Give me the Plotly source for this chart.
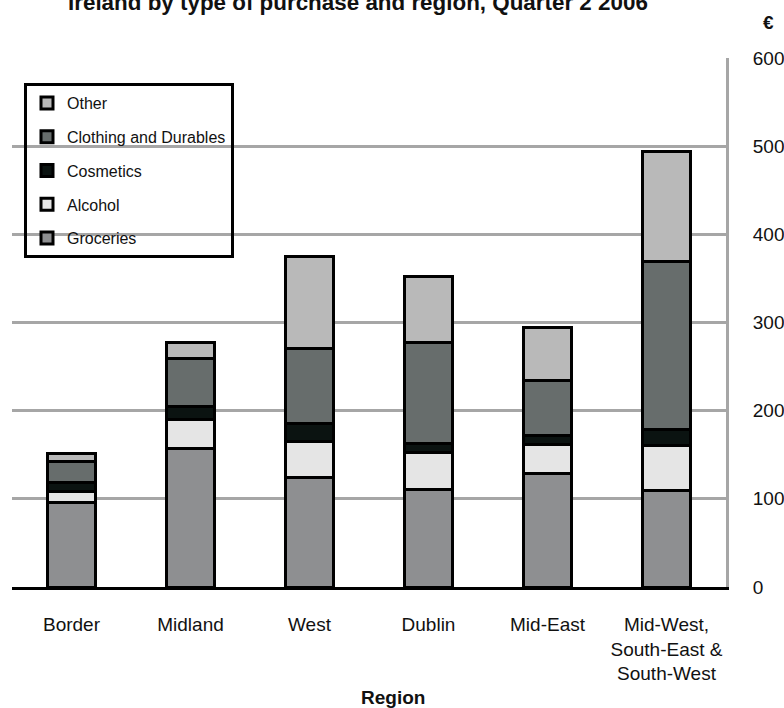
import plotly.graph_objects as go

regions = ["Border", "Midland", "West", "Dublin", "Mid-East",
           "Mid-West,<br>South-East &<br>South-West"]
groceries = [96, 157, 124, 111, 129, 109]
alcohol = [12, 33, 41, 41, 33, 51]
cosmetics = [10, 15, 21, 11, 10, 19]
clothing = [24, 54, 84, 114, 62, 190]
other = [9, 18, 105, 75, 60, 125]

series = [
    ("Groceries", groceries, "#8e8f91", 5),
    ("Alcohol", alcohol, "#e5e5e5", 4),
    ("Cosmetics", cosmetics, "#0b1311", 3),
    ("Clothing and Durables", clothing, "#676d6c", 2),
    ("Other", other, "#b9b9b9", 1),
]

FONT = "Liberation Sans, Arial, sans-serif"

fig = go.Figure()
for name, vals, col, rank in series:
    fig.add_trace(go.Bar(
        x=regions, y=vals, name=name, legendgroup=name, legendrank=rank,
        marker=dict(color=col, line=dict(color="#000000", width=3)),
        width=0.41,
    ))

W, H = 784, 708
L, R, T, B = 12, 58, 58, 121
ph = H - T - B

def py(px):
    return (H - B - px) / ph

def pxx(px):
    return (px - L) / (W - L - R)

fig.update_layout(
    width=W, height=H,
    margin=dict(l=L, r=R, t=T, b=B, pad=0, autoexpand=False),
    barmode="stack",
    plot_bgcolor="white", paper_bgcolor="white",
    font=dict(family=FONT, color="#111111", size=19),
    showlegend=True,
    legend=dict(
        x=pxx(24), y=py(83), xanchor="left", yanchor="top",
        bgcolor="rgba(0,0,0,0)", bordercolor="#000000", borderwidth=3,
        font=dict(family=FONT, size=16, color="#111111"),
        traceorder="grouped", tracegroupgap=10,
    ),
    xaxis=dict(
        showgrid=False, showline=True, linecolor="#000000", linewidth=3,
        ticks="", tickfont=dict(size=19), ticklabelstandoff=18,
        zeroline=False, fixedrange=True, automargin=False,
    ),
    yaxis=dict(
        side="right", range=[0, 600], dtick=100,
        showgrid=True, gridcolor="#a6a6a6", gridwidth=3,
        showline=True, linecolor="#a6a6a6", linewidth=3,
        zeroline=False, ticks="", ticklabelstandoff=20,
        tickfont=dict(size=19), fixedrange=True, automargin=False,
    ),
    annotations=[
        dict(text="<b>Ireland by type of purchase and region, Quarter 2 2006</b>",
             xref="paper", yref="paper", x=pxx(358), y=py(17),
             xanchor="center", yanchor="bottom", showarrow=False,
             font=dict(family=FONT, size=22.4, color="#111111")),
        dict(text="<b>€</b>", xref="paper", yref="paper",
             x=pxx(768), y=py(22), xanchor="center", yanchor="middle",
             showarrow=False, font=dict(family=FONT, size=19, color="#111111")),
        dict(text="<b>Region</b>", xref="paper", yref="paper",
             x=pxx(393), y=py(697), xanchor="center", yanchor="middle",
             showarrow=False, font=dict(family=FONT, size=19, color="#111111")),
    ],
)

fig.write_html(
    "out.html",
    config={"displayModeBar": False},
    post_script="document.body.style.margin='0';document.body.style.padding='0';",
)
